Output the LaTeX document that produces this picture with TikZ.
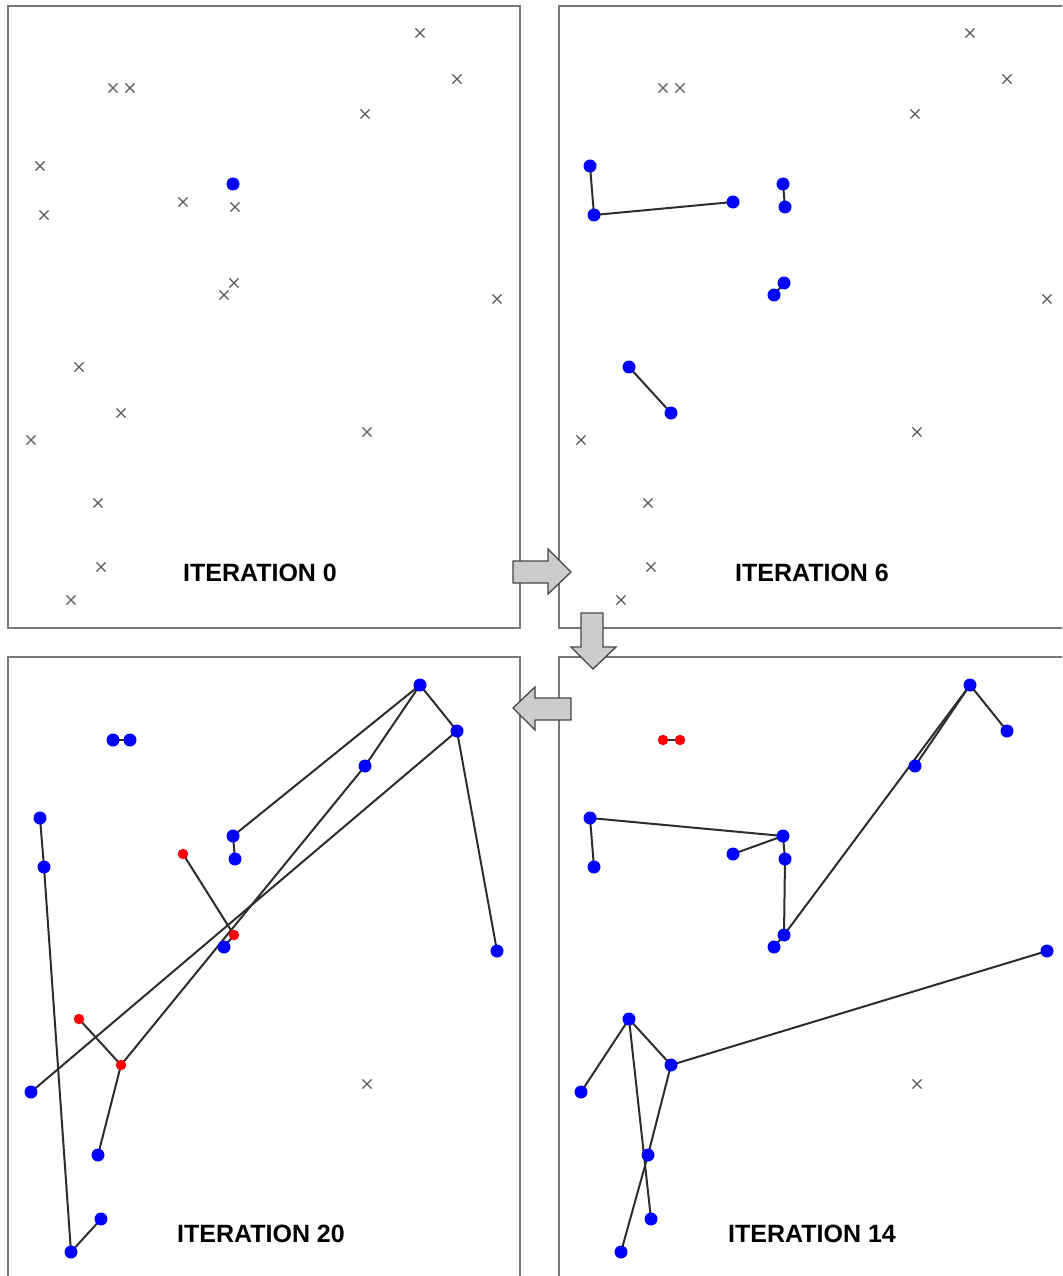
\documentclass[tikz,border=0pt]{standalone}
\usepackage{fontspec}
\setmainfont{Liberation Sans}
\usetikzlibrary{shapes.misc}
\pgfdeclarelayer{bg}
\pgfsetlayers{bg,main}

\definecolor{dotblue}{RGB}{0,0,255}
\definecolor{dotred}{RGB}{255,0,0}
\definecolor{framegray}{RGB}{120,120,120}
\definecolor{edgegray}{RGB}{45,45,45}
\definecolor{arrowfill}{RGB}{204,204,204}
\definecolor{arrowline}{RGB}{70,70,70}

\tikzset{
  bdot/.style={circle, fill=dotblue, inner sep=0pt, minimum size=13pt},
  rdot/.style={circle, fill=dotred, inner sep=0pt, minimum size=10.5pt},
  xmk/.style={cross out, draw=black!65, line width=1.1pt, inner sep=0pt, minimum size=8pt},
  edge/.style={draw=edgegray, line width=2pt},
  panel/.style={draw=framegray, line width=1.5pt},
  blockarrow/.style={fill=arrowfill, draw=arrowline, line width=1.3pt, line join=miter},
  lbl/.style={anchor=base, font=\bfseries\fontsize{25}{30}\selectfont}
}

% point index / x / y / state at iterations 0, 6, 14, 20
\def\ptlist{1/420/33/xmk/xmk/bdot/bdot,
  2/457/79/xmk/xmk/bdot/bdot,
  3/113/88/xmk/xmk/rdot/bdot,
  4/130/88/xmk/xmk/rdot/bdot,
  5/365/114/xmk/xmk/bdot/bdot,
  6/40/166/xmk/bdot/bdot/bdot,
  7/233/184/bdot/bdot/bdot/bdot,
  8/183/202/xmk/bdot/bdot/rdot,
  9/235/207/xmk/bdot/bdot/bdot,
  10/44/215/xmk/bdot/bdot/bdot,
  11/234/283/xmk/bdot/bdot/rdot,
  12/224/295/xmk/bdot/bdot/bdot,
  13/497/299/xmk/xmk/bdot/bdot,
  14/79/367/xmk/bdot/bdot/rdot,
  15/121/413/xmk/bdot/bdot/rdot,
  16/31/440/xmk/xmk/bdot/bdot,
  17/367/432/xmk/xmk/xmk/xmk,
  18/98/503/xmk/xmk/bdot/bdot,
  19/101/567/xmk/xmk/bdot/bdot,
  20/71/600/xmk/xmk/bdot/bdot}

\begin{document}
\begin{tikzpicture}[x=1pt, y=-1pt]
\useasboundingbox (0,0) rectangle (1062,1276);
\clip (0,0) rectangle (1062,1276);
\begin{pgfonlayer}{bg}
\fill[white] (0,0) rectangle (1062,1276);
\end{pgfonlayer}

% panel frames
\draw[panel] (8,6) rectangle (520,628);
\draw[panel] (559,6) rectangle (1075,628);
\draw[panel] (8,657) rectangle (520,1290);
\draw[panel] (559,657) rectangle (1075,1290);

% iteration 0
\foreach \i/\px/\py/\sa/\sb/\sc/\sd in \ptlist {
  \node[\sa] (a\i) at (\px,\py) {};
}
% iteration 6
\begin{scope}[shift={(550,0)}]
\foreach \i/\px/\py/\sa/\sb/\sc/\sd in \ptlist {
  \node[\sb] (b\i) at (\px,\py) {};
}
\end{scope}
% iteration 14
\begin{scope}[shift={(550,652)}]
\foreach \i/\px/\py/\sa/\sb/\sc/\sd in \ptlist {
  \node[\sc] (c\i) at (\px,\py) {};
}
\end{scope}
% iteration 20
\begin{scope}[shift={(0,652)}]
\foreach \i/\px/\py/\sa/\sb/\sc/\sd in \ptlist {
  \node[\sd] (d\i) at (\px,\py) {};
}
\end{scope}

% connections, kept beneath the dots
\begin{pgfonlayer}{bg}
\foreach \u/\v in {6/10, 10/8, 7/9, 11/12, 14/15}
  \draw[edge] (b\u.center) -- (b\v.center);
\foreach \u/\v in {1/2, 1/5, 1/11, 6/7, 6/10, 8/7, 7/9, 9/11, 11/12,
                   14/16, 14/15, 14/19, 15/13, 15/18, 18/20, 3/4}
  \draw[edge] (c\u.center) -- (c\v.center);
\foreach \u/\v in {1/2, 2/13, 1/7, 7/9, 1/5, 5/15, 2/16, 8/11, 11/12,
                   14/15, 15/18, 6/10, 10/20, 20/19, 3/4}
  \draw[edge] (d\u.center) -- (d\v.center);
\end{pgfonlayer}

% captions
\node[lbl] (ta) at (260,581) {ITERATION 0};
\node[lbl] (tb) at (812,581) {ITERATION 6};
\node[lbl] (tc) at (812,1242) {ITERATION 14};
\node[lbl] (td) at (261,1242) {ITERATION 20};

% block arrows between the panels
\draw[blockarrow] (513,561) -- (548,561) -- (548,549) -- (571,572)
  -- (548,594) -- (548,583) -- (513,583) -- cycle;
\draw[blockarrow] (581,613) -- (603,613) -- (603,647) -- (616,647)
  -- (593,669) -- (571,647) -- (581,647) -- cycle;
\draw[blockarrow] (571,698) -- (535,698) -- (535,687) -- (513,708)
  -- (535,730) -- (535,720) -- (571,720) -- cycle;
\end{tikzpicture}
\end{document}
